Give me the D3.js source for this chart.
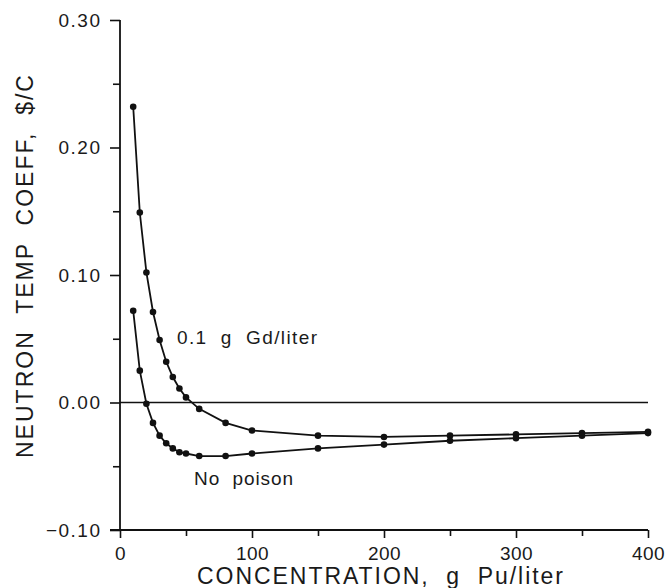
<!DOCTYPE html>
<html>
<head>
<meta charset="utf-8">
<script src="https://cdn.jsdelivr.net/npm/d3@7"></script>
<style>
  body { margin: 0; background: #fff; }
  svg { display: block; }
  text { font-family: "Liberation Sans", Arial, sans-serif; fill: #1a1a1a; white-space: pre; }
</style>
</head>
<body>
<svg id="chart" width="668" height="588"></svg>
<script>
// ---- data ----
const concGd = [10, 15, 20, 25, 30, 35, 40, 45, 50, 60, 80, 100, 150, 200, 250, 300, 350, 400];
const coeffGd = [0.232, 0.149, 0.102, 0.071, 0.049, 0.032, 0.020, 0.011, 0.004, -0.005, -0.016, -0.022, -0.026, -0.027, -0.026, -0.025, -0.024, -0.023];
const concNoPoison = [10, 15, 20, 25, 30, 35, 40, 45, 50, 60, 80, 100, 150, 200, 250, 300, 350, 400];
const coeffNoPoison = [0.072, 0.025, -0.001, -0.016, -0.026, -0.032, -0.036, -0.039, -0.040, -0.042, -0.042, -0.040, -0.036, -0.033, -0.030, -0.028, -0.026, -0.024];
const xTicks = [0, 100, 200, 300, 400];
const xMinorTicks = [50, 150, 250, 350];
const yTicks = [-0.10, 0.00, 0.10, 0.20, 0.30];
const yMinorTicks = [-0.05, 0.05, 0.15, 0.25];
const seriesLabels = ["0.1  g  Gd/liter", "No  poison"];
const xTitle = "CONCENTRATION,  g  Pu/liter";
const yTitle = "NEUTRON  TEMP  COEFF,  $/C";

const svg = d3.select("#chart");
const x = d3.scaleLinear().domain([0, 400]).range([120, 648]);
const y = d3.scaleLinear().domain([-0.10, 0.30]).range([530, 20]);

const fmtY = v => (v < 0 ? "\u2212" : "") + Math.abs(v).toFixed(2);
const ink = "#111";

// x axis
const xAxis = d3.axisBottom(x).tickValues(xTicks).tickSize(8).tickPadding(9).tickFormat(d3.format("d"));
const gx = svg.append("g").attr("transform", `translate(0,${y(-0.10)})`).call(xAxis);
gx.select(".domain").remove();
gx.selectAll("text").attr("font-size", 19).attr("font-family", "Liberation Sans, Arial, sans-serif")
  .attr("fill", "#1a1a1a").attr("letter-spacing", "0.5px");
gx.selectAll("line").attr("stroke", ink).attr("stroke-width", 1.6);
const gxm = svg.append("g").attr("transform", `translate(0,${y(-0.10)})`)
  .call(d3.axisBottom(x).tickValues(xMinorTicks).tickSize(6).tickFormat(""));
gxm.select(".domain").remove();
gxm.selectAll("line").attr("stroke", ink).attr("stroke-width", 1.6);
svg.append("line").attr("x1", 110).attr("x2", x(400)).attr("y1", y(-0.10)).attr("y2", y(-0.10))
  .attr("stroke", ink).attr("stroke-width", 1.8);

// y axis
const yAxis = d3.axisLeft(y).tickValues(yTicks).tickSize(10).tickPadding(8.5).tickFormat(fmtY);
const gy = svg.append("g").attr("transform", `translate(${x(0)},0)`).call(yAxis);
gy.select(".domain").remove();
gy.selectAll("text").attr("font-size", 19).attr("font-family", "Liberation Sans, Arial, sans-serif")
  .attr("fill", "#1a1a1a").attr("letter-spacing", "1.5px");
gy.selectAll("line").attr("stroke", ink).attr("stroke-width", 1.6);
const gym = svg.append("g").attr("transform", `translate(${x(0)},0)`)
  .call(d3.axisLeft(y).tickValues(yMinorTicks).tickSize(7).tickFormat(""));
gym.select(".domain").remove();
gym.selectAll("line").attr("stroke", ink).attr("stroke-width", 1.6);
svg.append("line").attr("x1", x(0)).attr("x2", x(0)).attr("y1", y(0.30)).attr("y2", y(-0.10))
  .attr("stroke", ink).attr("stroke-width", 1.8);

// zero line
svg.append("line").attr("x1", x(0)).attr("x2", x(400)).attr("y1", y(0)).attr("y2", y(0))
  .attr("stroke", ink).attr("stroke-width", 1.6);

// series
const line = d3.line().x(d => x(d[0])).y(d => y(d[1]));
const seriesData = [
  d3.zip(concGd, coeffGd),
  d3.zip(concNoPoison, coeffNoPoison)
];
seriesData.forEach(data => {
  svg.append("path").datum(data).attr("d", line)
    .attr("fill", "none").attr("stroke", ink).attr("stroke-width", 1.8);
  svg.append("g").selectAll("circle").data(data).join("circle")
    .attr("cx", d => x(d[0])).attr("cy", d => y(d[1])).attr("r", 3.3)
    .attr("fill", ink);
});

// series labels
svg.append("text").attr("x", 177).attr("y", 344).attr("font-size", 19)
  .attr("textLength", 140).attr("lengthAdjust", "spacing").text(seriesLabels[0]);
svg.append("text").attr("x", 194).attr("y", 485).attr("font-size", 19)
  .attr("textLength", 99).attr("lengthAdjust", "spacing").text(seriesLabels[1]);

// axis titles
svg.append("text").attr("x", 197).attr("y", 584)
  .attr("font-size", 23).attr("textLength", 366).attr("lengthAdjust", "spacing").text(xTitle);
svg.append("text").attr("transform", "translate(33,458) rotate(-90)")
  .attr("font-size", 23).attr("textLength", 383).attr("lengthAdjust", "spacing").text(yTitle);
</script>
</body>
</html>
